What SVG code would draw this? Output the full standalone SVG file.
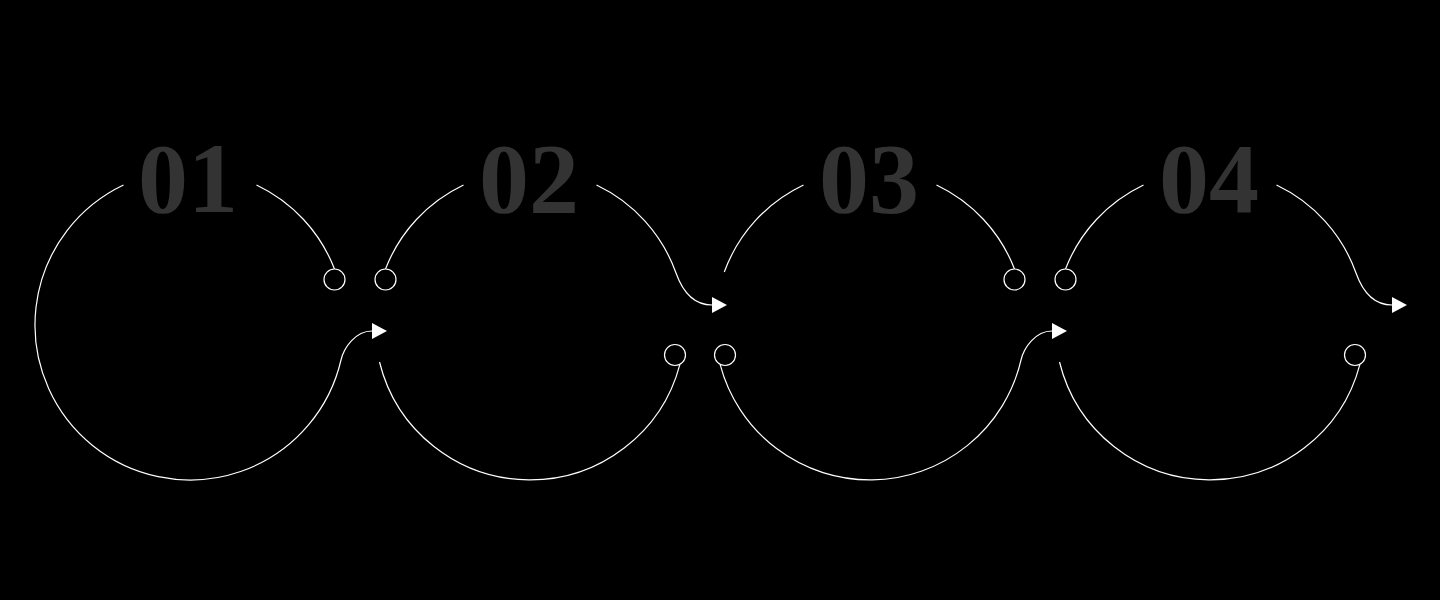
<svg xmlns="http://www.w3.org/2000/svg" width="1440" height="600" viewBox="0 0 1440 600">
  <style>
    .arc{fill:none;stroke:#ffffff;stroke-width:1.2}
    .dot{fill:none;stroke:#ffffff;stroke-width:1.2}
    .num{font-family:"Liberation Serif","Times New Roman",serif;font-weight:bold;font-size:100px;fill:#333333;text-anchor:middle}
  </style>
  <defs>
    <marker id="arrow" viewBox="0 0 15 16" refX="0" refY="8" markerWidth="15" markerHeight="16" markerUnits="userSpaceOnUse" orient="auto">
      <path d="M0 0 L15 8 L0 16 Z" fill="#ffffff"/>
    </marker>
  </defs>
  <rect x="0" y="0" width="1440" height="600" fill="#000000"/>
  <g id="connectors">
    <path class="arc" d="M 256.5 185 A 155 155 0 0 1 334.5 269"/>
    <path class="arc" d="M 123.5 185 A 155 155 0 1 0 341 360 C 343.7 348.3 355 331 372 331" marker-end="url(#arrow)"/>
    <path class="arc" d="M 385.5 269 A 155 155 0 0 1 463.5 185"/>
    <path class="arc" d="M 596.5 185 A 155 155 0 0 1 676 273 C 680.7 286.2 690 305 712 305" marker-end="url(#arrow)"/>
    <path class="arc" d="M 379.5 362 A 155 155 0 0 0 679.9 364.3"/>
    <path class="arc" d="M 724.3 272 A 155 155 0 0 1 803.5 185"/>
    <path class="arc" d="M 936.5 185 A 155 155 0 0 1 1014.5 269"/>
    <path class="arc" d="M 720.1 364.3 A 155 155 0 0 0 1021 360 C 1023.7 348.3 1035 331 1052 331" marker-end="url(#arrow)"/>
    <path class="arc" d="M 1065.5 269 A 155 155 0 0 1 1143.5 185"/>
    <path class="arc" d="M 1276.5 185 A 155 155 0 0 1 1356 273 C 1360.7 286.2 1370 305 1392 305" marker-end="url(#arrow)"/>
    <path class="arc" d="M 1059.5 362 A 155 155 0 0 0 1359.9 364.3"/>
  </g>
  <g id="step1">
    <text class="num" x="188" y="212">01</text>
    <circle class="dot" cx="334.5" cy="279.5" r="10.5"/>
  </g>
  <g id="step2">
    <text class="num" x="529" y="212">02</text>
    <circle class="dot" cx="385.5" cy="279.5" r="10.5"/>
    <circle class="dot" cx="675" cy="355" r="10.5"/>
  </g>
  <g id="step3">
    <text class="num" x="869" y="212">03</text>
    <circle class="dot" cx="1014.5" cy="279.5" r="10.5"/>
    <circle class="dot" cx="725" cy="355" r="10.5"/>
  </g>
  <g id="step4">
    <text class="num" x="1209" y="212">04</text>
    <circle class="dot" cx="1065.5" cy="279.5" r="10.5"/>
    <circle class="dot" cx="1355" cy="355" r="10.5"/>
  </g>
</svg>
